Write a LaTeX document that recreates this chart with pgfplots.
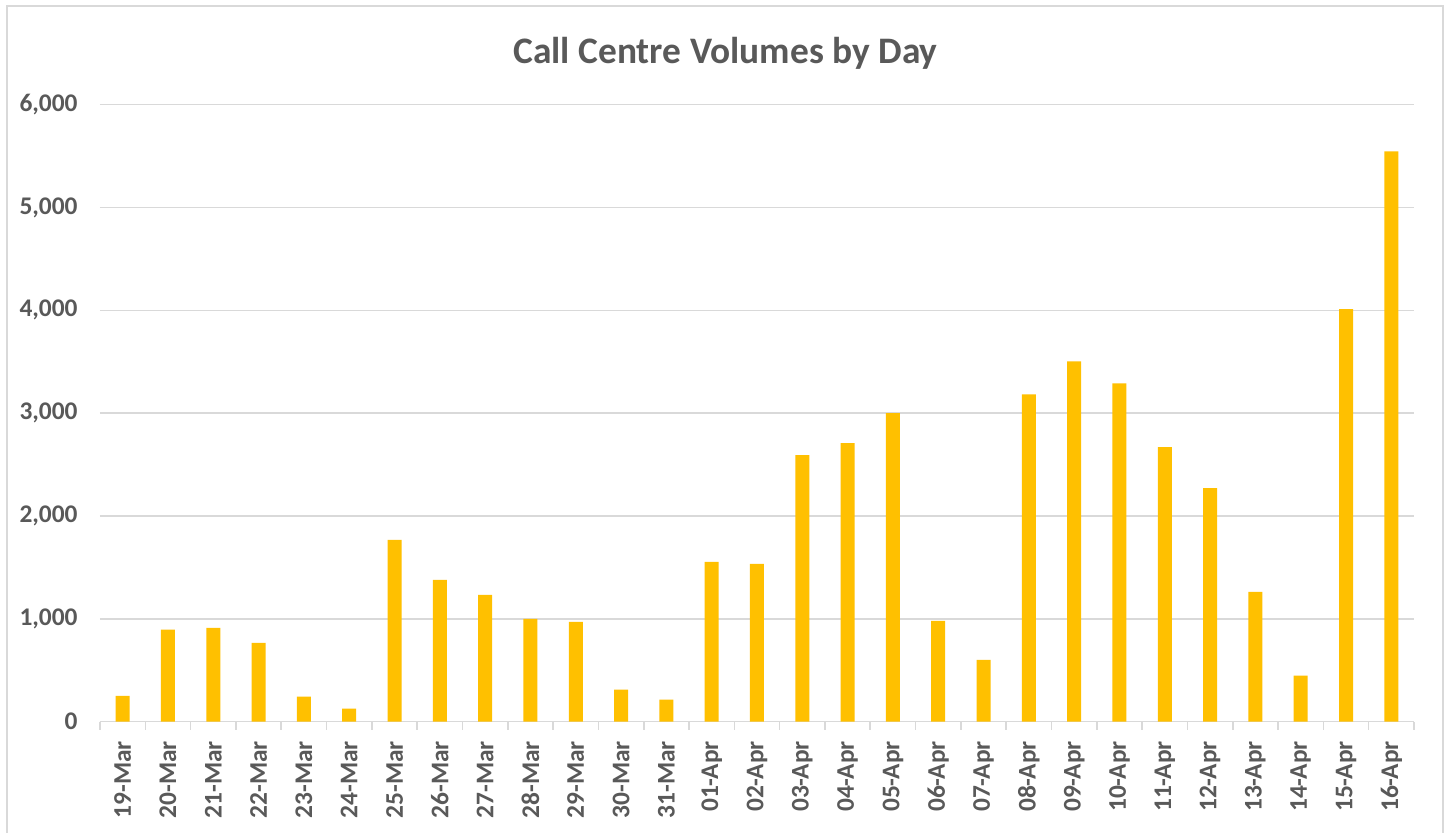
\documentclass[border=0pt]{standalone}
\usepackage{fontspec}
\setmainfont{Carlito}
\usepackage{pgfplots}
\pgfplotsset{compat=1.18}
\definecolor{txt}{HTML}{595959}
\definecolor{gridc}{HTML}{D9D9D9}
\definecolor{barc}{HTML}{FFC000}
\begin{document}
\begin{tikzpicture}
\useasboundingbox (-50pt,-55.65pt) rectangle (673.5pt,360.85pt);
\clip (-50pt,-55.65pt) rectangle (673.5pt,360.85pt);
\fill[white] (-50pt,-55.65pt) rectangle (673.5pt,360.85pt);
\draw[gridc, line width=0.8pt] (-46.5pt,-70pt) rectangle (671.5pt,357.85pt);
\node[font=\bfseries\fontsize{18.7}{22}\selectfont, text=txt, anchor=base, inner sep=0pt] at (312.75pt,328.85pt) {Call Centre Volumes by Day};
\begin{axis}[
  at={(0,0)}, anchor=south west, scale only axis,
  width=657pt, height=308.5pt,
  ybar, bar width=7pt,
  xmin=-0.5, xmax=28.5, ymin=0, ymax=6000,
  axis lines*=left,
  y axis line style={draw=none},
  x axis line style={gridc, line width=0.8pt},
  ymajorgrids, grid style={gridc, line width=0.8pt},
  ytick={0,1000,...,6000},
  xtick={0,...,28},
  xticklabels={19-Mar,20-Mar,21-Mar,22-Mar,23-Mar,24-Mar,25-Mar,26-Mar,27-Mar,28-Mar,29-Mar,30-Mar,31-Mar,01-Apr,02-Apr,03-Apr,04-Apr,05-Apr,06-Apr,07-Apr,08-Apr,09-Apr,10-Apr,11-Apr,12-Apr,13-Apr,14-Apr,15-Apr,16-Apr},
  minor xtick={-0.5,0.5,...,28.5},
  major tick length=0pt,
  minor tick length=4pt,
  tick align=outside,
  minor tick style={gridc, line width=0.8pt},
  tick label style={font=\bfseries\fontsize{12.7}{13}\selectfont, text=txt, inner sep=0pt},
  xticklabel style={rotate=90, anchor=east},
  xticklabel shift=9.5pt,
  yticklabel shift=11pt,
  /pgf/number format/assume math mode=true,
  /pgf/number format/.cd, 1000 sep={,},
]
\addplot[fill=barc, draw=none] coordinates {
(0,252) (1,895) (2,913) (3,767) (4,243) (5,126) (6,1767) (7,1379) (8,1233) (9,1000)
(10,971) (11,311) (12,214) (13,1553) (14,1534) (15,2592) (16,2709) (17,3000) (18,981) (19,602)
(20,3184) (21,3505) (22,3291) (23,2670) (24,2272) (25,1262) (26,447) (27,4011) (28,5545)
};
\end{axis}
\end{tikzpicture}
\end{document}
